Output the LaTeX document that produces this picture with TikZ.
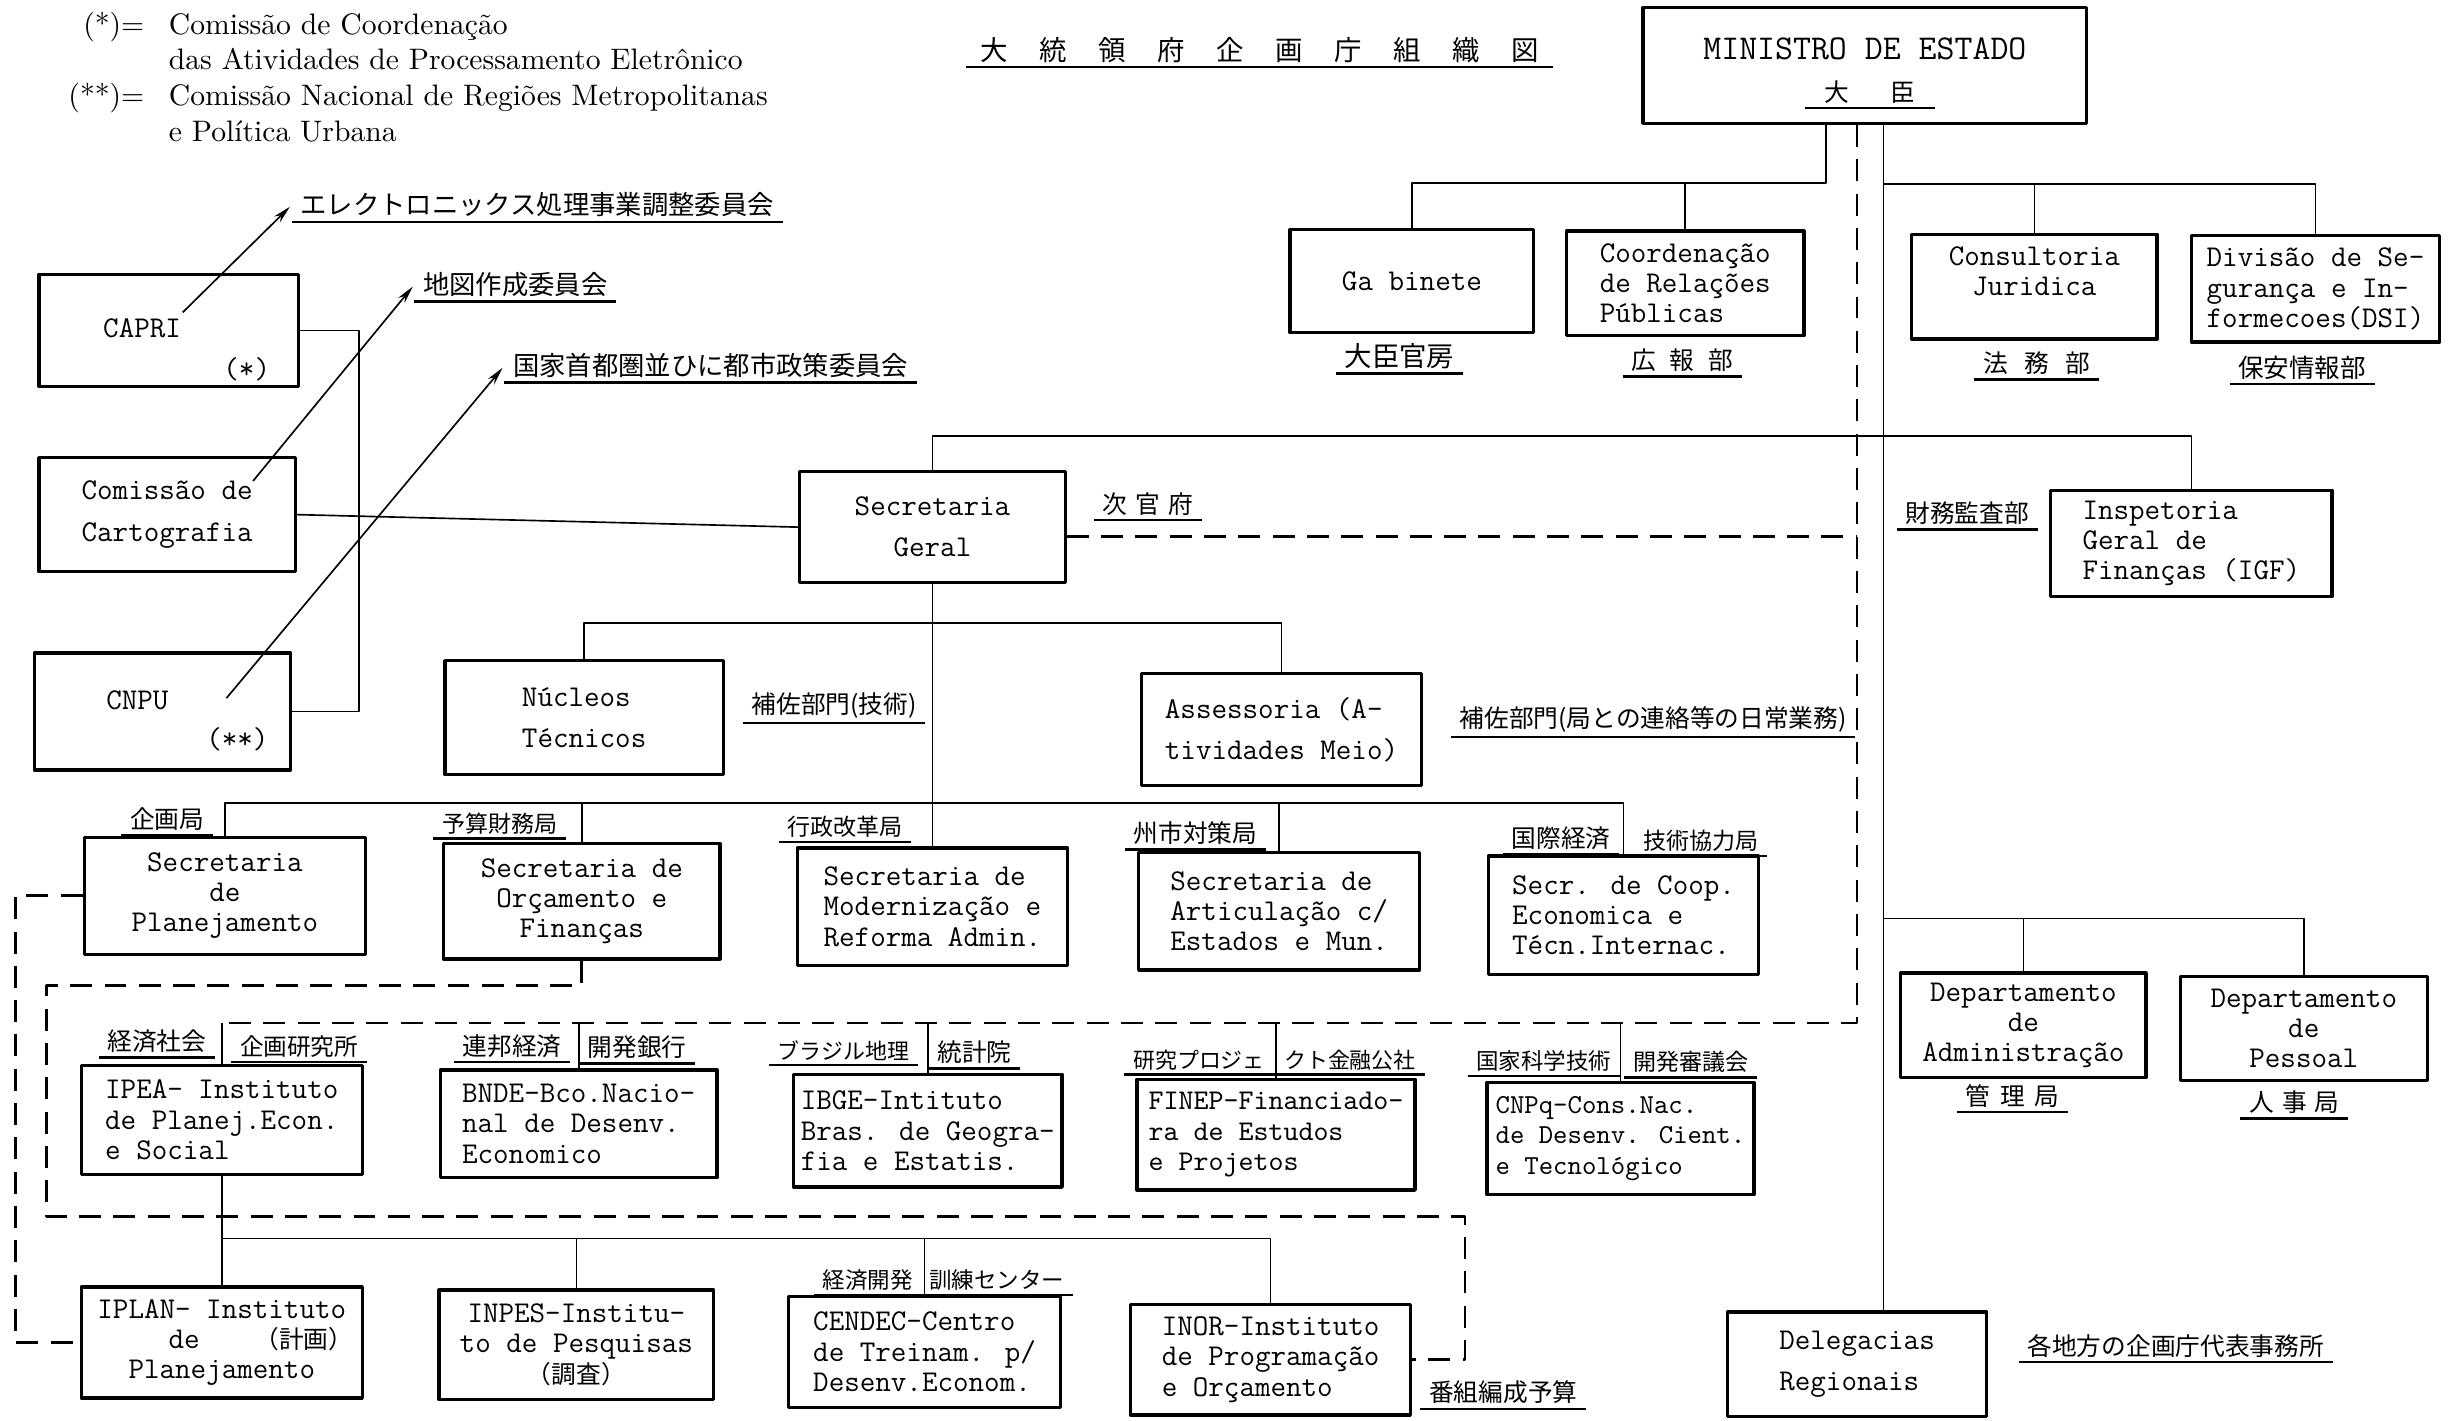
\documentclass[tikz,border=0pt]{standalone}
\usepackage{fontspec}
\newfontfamily\jpfont{Noto Sans CJK JP}
\usetikzlibrary{arrows.meta}
\newcommand{\jsp}{\hspace{11.5pt}}
\begin{document}
\begin{tikzpicture}[x=0.02cm,y=-0.02cm,line join=round,>={Stealth[length=6.5pt,width=3pt]},
  box/.style={draw,line width=1.2pt,inner sep=2pt,align=center,font=\ttfamily\fontsize{11}{11}\selectfont},
  sz/.style 2 args={minimum width=#1*0.02cm,minimum height=#2*0.02cm},
  uline/.style={line width=0.9pt},
  ul/.style={anchor=south,inner xsep=3pt,inner ysep=1.5pt,font=\jpfont\fontsize{9}{9}\selectfont,
    append after command={(\tikzlastnode.south west) edge[uline] (\tikzlastnode.south east)}},
  ln/.style={line width=0.6pt},
  dsh/.style={line width=1pt,dash pattern=on 8pt off 4.5pt},
  arr/.style={line width=0.6pt,->,shorten >=1pt}]
\useasboundingbox (0,0) rectangle (1568,909.8);
% legend
\node[anchor=north west,inner sep=0pt,font=\fontsize{10.8}{13}\selectfont] (leg) at (43.5,5.5) {\begin{tabular}{@{}r@{\hspace{9pt}}l@{}}
(*)= & Comissão de Coordenação\\
 & das Atividades de Processamento Eletrônico\\
(**)= & Comissão Nacional de Regiões Metropolitanas\\
 & e Política Urbana
\end{tabular}};
\node[ul,inner xsep=5pt,font=\jpfont\fontsize{10}{10}\selectfont] (ttl) at (806.5,43) {大\jsp 統\jsp 領\jsp 府\jsp 企\jsp 画\jsp 庁\jsp 組\jsp 織\jsp 図};
% top
\node[box,sz={284}{74},font=\ttfamily\fontsize{12.7}{12.7}\selectfont] (min) at (1194,42) {MINISTRO DE ESTADO\\\mbox{}};
\node[ul,inner xsep=7pt] (dj) at (1197,69) {大\hspace{15pt}臣};
\node[box,sz={156}{66}] (gab) at (904,180) {Ga binete};
\node[box,sz={152}{67},align=left] (crp) at (1079,181.5) {Coordenação\\de Relações\\Públicas};
\node[box,sz={157}{67}] (cj) at (1302.5,183.5) {Consultoria\\Juridica\\\mbox{}};
\node[box,sz={159}{68},align=left] (dsi) at (1482.5,185) {Divisão de Se-\\gurança e In-\\formecoes(DSI)};
\node[ul,font=\jpfont\fontsize{10}{10}\selectfont] (lgab) at (896,239) {大臣官房};
\node[ul] (lcrp) at (1077,241) {広\hspace{5pt}報\hspace{5pt}部};
\node[ul] (lcj) at (1304,243) {法\hspace{6pt}務\hspace{6pt}部};
\node[ul,font=\jpfont\fontsize{9.3}{9.3}\selectfont] (ldsi) at (1474,246) {保安情報部};
% commissions
\node[box,sz={166}{71},align=left] (cap) at (108,211.5) {\mbox{}\\[10pt]\hspace*{0.46cm}CAPRI\\[4pt]\hspace*{2cm}(*)};
\node[box,sz={164}{73},align=left] (cart) at (107,329.5) {Comissão de\\[4pt]Cartografia};
\node[box,sz={164}{75},align=left] (cnpu) at (104,455.5) {\mbox{}\\[2.6pt]\hspace*{0.64cm}CNPU\\[3pt]\hspace*{1.92cm}(**)};
\node[ul,font=\jpfont\fontsize{9.6}{9.6}\selectfont] (l1) at (344,142) {エレクトロニックス処理事業調整委員会};
\node[ul,font=\jpfont\fontsize{9.6}{9.6}\selectfont] (l2) at (330,193) {地図作成委員会};
\node[ul,font=\jpfont\fontsize{9.6}{9.6}\selectfont] (l3) at (455,245) {国家首都圏並ひに都市政策委員会};
% secretaria geral
\node[box,sz={170}{71}] (sg) at (597,337.5) {Secretaria\\[4pt]Geral};
\node[ul] (lsg) at (735,333) {次\hspace{3pt}官\hspace{3pt}府};
\node[box,sz={180}{68},align=left] (igf) at (1403,348) {Inspetoria\\Geral de\\Finanças (IGF)};
\node[ul] (ligf) at (1259.5,339) {財務監査部};
\node[box,sz={178}{73},align=left] (nt) at (374,459.5) {Núcleos\\[4pt]Técnicos};
\node[ul] (lnt) at (534,463) {補佐部門(技術)};
\node[box,sz={179}{72},align=left] (am) at (820.5,467) {Assessoria (A-\\[4pt]tividades Meio)};
\node[ul] (lam) at (1058.5,472) {補佐部門(局との連絡等の日常業務)};
% secretarias
\node[box,sz={180}{75}] (spl) at (144,573.5) {Secretaria\\de\\Planejamento};
\node[box,sz={177}{74}] (sof) at (372.5,577) {Secretaria de\\Orçamento e\\Finanças};
\node[box,sz={173}{75},align=left] (smr) at (597,580.5) {Secretaria de\\Modernização e\\Reforma Admin.};
\node[box,sz={180}{75},align=left] (sae) at (819,583.5) {Secretaria de\\Articulação c/\\Estados e Mun.};
\node[box,sz={173}{76},align=left] (scp) at (1039.5,586) {Secr. de Coop.\\Economica e\\Técn.Internac.};
\node[ul] (lspl) at (107,535) {企画局};
\node[ul,font=\jpfont\fontsize{8.4}{8.4}\selectfont] (lsof) at (320,537) {予算財務局};
\node[ul,font=\jpfont\fontsize{8.4}{8.4}\selectfont] (lsmr) at (541,539) {行政改革局};
\node[ul] (lsae) at (765.5,544) {州市対策局};
\node[ul] (lscp1) at (999.5,547) {国際経済};
\node[ul,font=\jpfont\fontsize{8.4}{8.4}\selectfont] (lscp2) at (1089,548) {技術協力局};
% departamentos
\node[box,sz={157}{67}] (da) at (1295.5,656.5) {Departamento\\de\\Administração};
\node[box,sz={158}{67}] (dp) at (1475,658.5) {Departamento\\de\\Pessoal};
\node[ul] (lda) at (1288.5,712) {管\hspace{3.5pt}理\hspace{3.5pt}局};
\node[ul] (ldp) at (1469,716) {人\hspace{3pt}事\hspace{3pt}局};
% institutos
\node[box,sz={180}{70},align=left] (ipea) at (142,717) {IPEA- Instituto\\de Planej.Econ.\\e Social};
\node[box,sz={177}{69},align=left] (bnde) at (370.5,719.5) {BNDE-Bco.Nacio-\\nal de Desenv.\\Economico};
\node[box,sz={172}{72},align=left] (ibge) at (594,724) {IBGE-Intituto\\Bras. de Geogra-\\fia e Estatis.};
\node[box,sz={178}{71},align=left,font=\ttfamily\fontsize{10.4}{11}\selectfont] (finep) at (817,726.5) {FINEP-Financiado-\\ra de Estudos\\e Projetos};
\node[box,sz={171}{72},align=left,font=\ttfamily\fontsize{10}{11}\selectfont] (cnpq) at (1037.5,729) {CNPq-Cons.Nac.\\de Desenv. Cient.\\e Tecnológico};
\node[ul] (lipea1) at (100.5,677) {経済社会};
\node[ul,font=\jpfont\fontsize{8.6}{8.6}\selectfont] (lipea2) at (191.5,680) {企画研究所};
\node[ul] (lbnde1) at (328,680) {連邦経済};
\node[ul] (lbnde2) at (408,681) {開発銀行};
\node[ul,font=\jpfont\fontsize{8}{8}\selectfont] (libge1) at (540,682) {ブラジル地理};
\node[ul] (libge2) at (624,684) {統計院};
\node[ul,font=\jpfont\fontsize{8}{8}\selectfont] (lfinep) at (816,688) {研究プロジェ\hspace{7pt}クト金融公社};
\node[ul,font=\jpfont\fontsize{8.2}{8.2}\selectfont] (lcnpq1) at (988.5,689) {国家科学技術};
\node[ul,font=\jpfont\fontsize{8.4}{8.4}\selectfont] (lcnpq2) at (1082.5,690) {開発審議会};
% lower row
\node[box,sz={180}{71}] (iplan) at (142,859.5) {IPLAN- Instituto\\\hspace*{1cm}de\hspace{0.7cm}{\jpfont\fontsize{9}{11}\selectfont （計画）}\\Planejamento};
\node[box,sz={176}{70}] (inpes) at (369,861) {INPES-Institu-\\to de Pesquisas\\{\jpfont\fontsize{9}{11}\selectfont （調査）}};
\node[box,sz={174}{71},align=left] (cendec) at (592,865.5) {CENDEC-Centro\\de Treinam. p/\\Desenv.Econom.};
\node[box,sz={179}{71},align=left] (inor) at (813.5,870.5) {INOR-Instituto\\de Programação\\e Orçamento};
\node[box,sz={166}{67},align=left] (dr) at (1189,873.5) {Delegacias\\[4pt]Regionais};
\node[ul,font=\jpfont\fontsize{8.2}{8.2}\selectfont] (lcendec) at (604,829) {経済開発\hspace{6pt}訓練センター};
\node[ul] (linor) at (962.5,902) {番組編成予算};
\node[ul] (ldr) at (1393,872) {各地方の企画庁代表事務所};
% trunks
\coordinate (lt) at (1169,117);
\coordinate (rt) at (1206,118);
\coordinate (dt) at (1189,655);
\coordinate (db) at (1206,588);
\draw[ln] (min.south -| lt) -- (lt) -| (gab.north);
\draw[ln] (lt -| crp.north) -- (crp.north);
\draw[ln] (min.south -| rt) -- (dr.north -| rt);
\draw[ln] (rt) -| (dsi.north);
\draw[ln] (rt -| cj.north) -- (cj.north);
\draw[ln] (db) -| (dp.north);
\draw[ln] (db -| da.north) -- (da.north);
\draw[dsh] (min.south -| dt) -- (dt) -- (dt -| ipea.north);
\foreach \n in {ipea,bnde,ibge,finep,cnpq} \draw[ln] (\n.north |- dt) -- (\n.north);
% secretaria geral
\coordinate (gb) at (597,279);
\coordinate (nb) at (597,399);
\coordinate (sb) at (597,514);
\coordinate (sge) at ([yshift=-0.12cm]sg.east);
\draw[ln] (sg.north) -- (gb) -| (igf.north);
\draw[dsh] (sge) -- (sge -| dt);
\draw[ln] (sg.south) -- (smr.north);
\draw[ln] (nt.north) |- (nb) -| (am.north);
\draw[ln] (spl.north) |- (sb) -| (scp.north);
\foreach \n in {sof,sae} \draw[ln] (\n.north |- sb) -- (\n.north);
% institutos
\coordinate (lb) at (142,793);
\draw[ln] (ipea.south) -- (iplan.north);
\draw[ln] (lb) -| (inor.north);
\foreach \n in {inpes,cendec} \draw[ln] (\n.north |- lb) -- (\n.north);
\coordinate (dl) at (10,0);
\coordinate (d1) at (30,631);
\coordinate (d2) at (938,779);
\draw[dsh] (spl.west) -- (spl.west -| dl) |- (iplan.west);
\draw[dsh] (sof.south) |- (d1) |- (d2) |- (inor.east);
% commissions
\coordinate (cb) at (230,0);
\draw[ln] (cart.east) -- (sg.west);
\draw[ln] (cap.east) -| (cb |- cnpu.east) -- (cnpu.east);
\coordinate (a1) at (117,200);
\coordinate (a2) at (162,308);
\coordinate (a3) at (145,447);
\draw[arr] (a1) -- (l1.west);
\draw[arr] (a2) -- (l2.west);
\draw[arr] (a3) -- (l3.west);
\end{tikzpicture}
\end{document}
